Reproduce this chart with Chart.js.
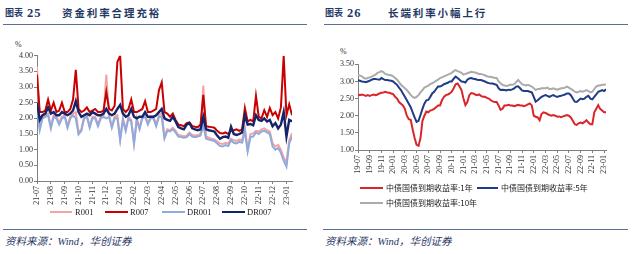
<!DOCTYPE html>
<html><head><meta charset="utf-8">
<script src="https://cdn.jsdelivr.net/npm/chart.js@4.4.0/dist/chart.umd.min.js"></script>
<style>
html,body{margin:0;padding:0;background:#fff;width:640px;height:254px;overflow:hidden;position:relative;}
.a{position:absolute;white-space:nowrap;}
.hd{color:#1f3864;font-weight:bold;font-family:"Noto Sans CJK SC",sans-serif;line-height:14px;top:6px;}
.num{font-family:"Liberation Serif",serif;font-size:12.5px;letter-spacing:1px;}
.ttl{font-size:10.5px;letter-spacing:1.9px;}
.fig{font-size:9px;}
.rule{position:absolute;height:1px;background:#5b6f94;}
.src{color:#1f3864;font-style:italic;font-family:"Liberation Serif","Noto Sans CJK SC",serif;font-size:10.5px;line-height:14px;top:235px;}
.pct{font-family:"Liberation Serif",serif;font-size:8px;color:#333;line-height:10px;}
.lg{position:absolute;height:2px;}
.lt{font-size:8.5px;line-height:10px;color:#222;font-family:"Liberation Serif",serif;}
.lc{font-size:8px;line-height:10px;color:#222;font-family:"Noto Sans CJK SC",sans-serif;}
canvas{position:absolute;}
</style></head>
<body>
<div class="a hd fig" style="left:5px">图表</div>
<div class="a hd num" style="left:27px">25</div>
<div class="a hd ttl" style="left:62px">资金利率合理充裕</div>
<div class="rule" style="left:3px;width:304px;top:24px"></div>
<div class="a hd fig" style="left:325px">图表</div>
<div class="a hd num" style="left:347px">26</div>
<div class="a hd ttl" style="left:388px">长端利率小幅上行</div>
<div class="rule" style="left:324px;width:304px;top:24px"></div>

<div class="a pct" style="left:15px;top:40px">%</div>
<div class="a pct" style="left:340px;top:47px">%</div>

<canvas id="c1" width="320" height="190" style="left:0;top:30px"></canvas>
<canvas id="c2" width="320" height="150" style="left:320px;top:30px"></canvas>

<div class="lg" style="left:50px;width:22px;top:211px;background:#F4A3A3"></div>
<div class="a lt" style="left:75px;top:207px">R001</div>
<div class="lg" style="left:105px;width:23px;top:211px;background:#C80000"></div>
<div class="a lt" style="left:130px;top:207px">R007</div>
<div class="lg" style="left:162px;width:23px;top:211px;background:#8FAADC"></div>
<div class="a lt" style="left:187px;top:207px">DR001</div>
<div class="lg" style="left:222px;width:23px;top:211px;background:#14246A"></div>
<div class="a lt" style="left:247px;top:207px">DR007</div>

<div class="lg" style="left:360px;width:23px;top:187px;background:#D9262A"></div>
<div class="a lc" style="left:386px;top:183px">中债国债到期收益率:1年</div>
<div class="lg" style="left:477px;width:21px;top:187px;background:#1F3C88"></div>
<div class="a lc" style="left:501px;top:183px">中债国债到期收益率:5年</div>
<div class="lg" style="left:360px;width:23px;top:202px;background:#ABABAB"></div>
<div class="a lc" style="left:386px;top:198px">中债国债到期收益率:10年</div>

<div class="rule" style="left:3px;width:304px;top:229px"></div>
<div class="rule" style="left:323px;width:305px;top:229px"></div>
<div class="a src" style="left:5px">资料来源：Wind，华创证券</div>
<div class="a src" style="left:325px">资料来源：Wind，华创证券</div>

<script>
// ---------- Chart 25 data (5 samples per month, from 2021-07) ----------
const leftMonths = ['21-07','21-08','21-09','21-10','21-11','21-12','22-01','22-02','22-03','22-04','22-05','22-06','22-07','22-08','22-09','22-10','22-11','22-12','23-01'];
const leftPerMonth = 5;
const R001 = [3.65,1.7,2.05,2.1,2.15, 1.75,2.1,2.05,1.85,2.05, 2.1,1.75,2.05,2.15,2.2, 1.55,1.65,2.05,2.1,1.75, 2.05,2.05,1.8,2.05,2.1, 3.4,2.1,1.75,2.05,2.1, 1.35,2.0,1.65,2.05,1.95, 1.22,2.0,1.7,2.05,2.1, 1.85,2.05,2.05,1.8,2.1, 2.15,1.4,1.65,1.62,1.7, 1.6,1.47,1.45,1.42,1.45, 1.55,1.47,1.45,1.47,1.5, 3.05,1.42,1.38,1.35,1.33, 1.27,1.2,1.18,1.22,1.2, 1.35,1.3,1.28,1.32,1.3, 1.7,1.0,1.5,1.52,1.6, 1.58,1.65,1.68,1.62,1.58, 1.2,1.1,1.15,1.0,0.75, 0.6,1.3,1.53];
const R007 = [3.4,2.2,2.2,2.25,2.6, 2.25,2.5,2.2,2.25,2.5, 2.2,2.2,2.3,2.6,3.55, 2.3,2.2,2.25,2.35,2.2, 2.25,2.3,2.2,2.2,2.25, 2.85,2.3,2.25,2.4,3.8, 4.0,2.3,2.2,2.3,2.6, 2.2,2.2,2.25,2.3,2.55, 2.2,2.2,2.25,2.3,2.9, 3.15,2.2,2.15,2.05,2.15, 1.95,1.8,1.78,1.75,1.85, 1.87,1.75,1.73,1.72,1.8, 2.75,1.75,1.73,1.72,1.7, 1.6,1.53,1.52,1.55,1.5, 1.6,1.62,1.65,1.6,1.65, 2.33,1.9,1.95,1.9,2.72, 2.05,2.0,2.26,2.05,2.33, 2.1,2.2,2.0,2.35,4.0, 2.1,2.45,2.1];
const DR001 = [2.3,1.63,2.0,2.05,2.1, 1.68,2.05,2.0,1.8,2.0, 2.05,1.7,2.0,2.1,2.0, 1.49,1.6,2.0,2.05,1.7, 2.0,2.0,1.75,2.0,2.05, 2.0,2.05,1.7,2.0,2.0, 1.3,1.95,1.6,2.0,1.9, 1.18,1.95,1.65,2.0,2.05, 1.8,2.0,2.0,1.75,2.05, 2.05,1.36,1.6,1.58,1.65, 1.55,1.42,1.4,1.38,1.4, 1.5,1.42,1.4,1.42,1.45, 1.76,1.35,1.32,1.3,1.28, 1.2,1.12,1.1,1.15,1.12, 1.3,1.22,1.2,1.25,1.22, 1.6,0.94,1.4,1.42,1.55, 1.5,1.58,1.6,1.55,1.5, 1.1,1.0,1.05,0.9,0.65, 0.46,1.2,1.42];
const DR007 = [2.5,1.95,2.1,2.15,2.35, 2.15,2.2,2.1,2.1,2.2, 2.15,2.1,2.15,2.25,2.55, 2.2,2.05,2.1,2.15,2.1, 2.2,2.15,2.1,2.1,2.15, 2.3,2.15,2.1,2.15,2.3, 2.43,2.15,2.05,2.1,2.3, 2.05,2.0,2.05,2.05,2.2, 2.05,2.05,2.05,2.1,2.2, 2.3,2.0,1.95,1.92,2.05, 1.9,1.72,1.68,1.65,1.8, 1.85,1.68,1.65,1.62,1.65, 2.05,1.65,1.62,1.6,1.58, 1.45,1.35,1.4,1.42,1.38, 1.73,1.5,1.47,1.5,1.55, 2.1,1.8,1.82,1.78,2.1, 1.95,1.92,2.0,1.9,1.95, 1.75,1.85,1.68,1.8,2.2, 1.42,1.95,1.9];

// ---------- Chart 26 data (3 samples per month, from 2019-07) ----------
const rightLabels = ['19-07','19-09','19-11','20-01','20-03','20-05','20-07','20-09','20-11','21-01','21-03','21-05','21-07','21-09','21-11','22-01','22-03','22-05','22-07','22-09','22-11','23-01'];
const rightPerMonth = 3;
const Y1 = [2.62,2.6,2.62, 2.6,2.58,2.6, 2.58,2.6,2.62, 2.6,2.62,2.65, 2.67,2.68,2.7, 2.68,2.67,2.65, 2.63,2.55,2.5, 2.4,2.35,2.3, 2.2,2.0,1.9, 1.88,1.6,1.35, 1.15,1.12,1.35, 1.85,2.0,2.12, 2.1,2.15,2.17, 2.2,2.25,2.3, 2.3,2.45,2.55, 2.6,2.62,2.65, 2.7,2.8,2.92, 2.94,2.85,2.75, 2.5,2.31,2.4, 2.6,2.66,2.65, 2.62,2.6,2.62, 2.58,2.55,2.55, 2.52,2.5,2.45, 2.42,2.4,2.4, 2.3,2.17,2.2, 2.3,2.3,2.32, 2.3,2.3,2.28, 2.3,2.32,2.3, 2.3,2.28,2.3, 2.33,2.36,2.3, 2.0,1.97,1.95, 1.87,2.05,2.1, 2.08,2.05,2.02, 2.0,2.02,2.0, 1.97,1.98,1.96, 1.98,2.0,2.02, 2.0,1.95,1.85, 1.75,1.73,1.78, 1.8,1.78,1.82, 1.87,1.8,1.75, 1.75,2.1,2.2, 2.31,2.2,2.15, 2.1,2.1];
const Y5 = [3.04,3.02,3.0, 2.99,2.98,3.0, 3.02,3.05,3.07, 3.07,3.06,3.05, 3.1,3.07,3.04, 3.04,3.03,3.02, 3.0,2.95,2.9, 2.82,2.75,2.65, 2.55,2.45,2.35, 2.25,2.1,1.95, 1.82,1.85,2.02, 2.2,2.35,2.45, 2.46,2.55,2.65, 2.7,2.78,2.85, 2.85,2.88,2.92, 2.94,2.96,3.0, 3.0,3.08,3.14, 3.1,3.05,3.0, 2.99,2.97,3.05, 3.09,3.1,3.08, 3.07,3.05,3.04, 3.04,3.02,3.0, 2.97,2.95,2.94, 2.94,2.92,2.9, 2.8,2.75,2.76, 2.75,2.74,2.76, 2.75,2.77,2.8, 2.85,2.86,2.8, 2.74,2.72,2.72, 2.72,2.7,2.68, 2.55,2.41,2.45, 2.5,2.55,2.58, 2.6,2.58,2.55, 2.58,2.6,2.57, 2.55,2.57,2.58, 2.6,2.62,2.65, 2.65,2.6,2.5, 2.41,2.4,2.45, 2.5,2.48,2.5, 2.55,2.58,2.5, 2.48,2.55,2.62, 2.7,2.72,2.75, 2.72,2.77];
const Y10 = [3.19,3.17,3.15, 3.1,3.08,3.1, 3.12,3.14,3.17, 3.2,3.25,3.27, 3.3,3.27,3.22, 3.2,3.19,3.18, 3.15,3.1,3.05, 2.98,2.9,2.85, 2.8,2.75,2.68, 2.6,2.55,2.52, 2.55,2.6,2.68, 2.75,2.82,2.85, 2.88,2.92,2.95, 2.98,3.02,3.05, 3.1,3.12,3.15, 3.17,3.2,3.22, 3.25,3.3,3.33, 3.3,3.28,3.25, 3.2,3.22,3.24, 3.26,3.28,3.27, 3.26,3.24,3.22, 3.22,3.2,3.18, 3.15,3.14,3.13, 3.12,3.1,3.1, 3.0,2.95,2.9, 2.88,2.87,2.88, 2.9,2.9,2.92, 2.98,3.04,2.98, 2.92,2.9,2.88, 2.9,2.88,2.85, 2.8,2.75,2.78, 2.78,2.8,2.8, 2.8,2.82,2.78, 2.78,2.8,2.78, 2.76,2.78,2.8, 2.8,2.82,2.85, 2.82,2.78,2.75, 2.7,2.68,2.7, 2.72,2.7,2.72, 2.75,2.72,2.68, 2.7,2.78,2.85, 2.88,2.88,2.9, 2.9,2.92];

const toXY = (arr, ppm) => arr.map((v, i) => ({x: i / ppm, y: v}));
const axisGrey = '#808080';
const tickFont = {family: 'Liberation Serif', size: 8};

function lineDs(label, arr, ppm, color, width, order) {
  return {label, data: toXY(arr, ppm), borderColor: color, backgroundColor: color,
          borderWidth: width, pointRadius: 0, tension: 0, order};
}

new Chart(document.getElementById('c1'), {
  type: 'line',
  data: {datasets: [
    lineDs('R001', R001, leftPerMonth, '#F4A3A3', 2, 4),
    lineDs('R007', R007, leftPerMonth, '#C80000', 2, 3),
    lineDs('DR001', DR001, leftPerMonth, '#8FAADC', 2, 2),
    lineDs('DR007', DR007, leftPerMonth, '#14246A', 2.4, 1)
  ]},
  options: {
    responsive: false, animation: false, devicePixelRatio: 1,
    layout: {padding: {top: 25.7, right: 28, left: 0, bottom: 0}},
    plugins: {legend: {display: false}, tooltip: {enabled: false}},
    scales: {
      x: {
        type: 'linear', min: 0, max: (R007.length - 1) / leftPerMonth,
        afterBuildTicks: s => { s.ticks = leftMonths.map((_, k) => ({value: k})); },
        afterFit: s => { s.height = 39; },
        ticks: {autoSkip: false, minRotation: 90, maxRotation: 90, padding: 2, font: tickFont, color: '#333',
                callback: v => leftMonths[v]},
        grid: {display: true, drawOnChartArea: false, drawTicks: true, tickLength: 3, color: axisGrey},
        border: {display: true, color: axisGrey}
      },
      y: {
        min: 0, max: 4,
        afterFit: s => { s.width = 37; },
        ticks: {stepSize: 0.5, padding: 1, font: tickFont, color: '#333', callback: v => Number(v).toFixed(2)},
        grid: {display: true, drawOnChartArea: false, drawTicks: true, tickLength: 3, color: axisGrey},
        border: {display: true, color: axisGrey}
      }
    }
  }
});

new Chart(document.getElementById('c2'), {
  type: 'line',
  data: {datasets: [
    lineDs('中债国债到期收益率:1年', Y1, rightPerMonth, '#D9262A', 2, 1),
    lineDs('中债国债到期收益率:5年', Y5, rightPerMonth, '#1F3C88', 2, 2),
    lineDs('中债国债到期收益率:10年', Y10, rightPerMonth, '#ABABAB', 2, 3)
  ]},
  options: {
    responsive: false, animation: false, devicePixelRatio: 1,
    layout: {padding: {top: 34.3, right: 34, left: 0, bottom: 0}},
    plugins: {legend: {display: false}, tooltip: {enabled: false}},
    scales: {
      x: {
        type: 'linear', min: 0, max: (Y1.length - 1) / rightPerMonth,
        afterBuildTicks: s => { s.ticks = rightLabels.map((_, k) => ({value: 2 * k})); },
        afterFit: s => { s.height = 30; },
        ticks: {autoSkip: false, minRotation: 90, maxRotation: 90, padding: 2, font: tickFont, color: '#333',
                callback: v => rightLabels[v / 2]},
        grid: {display: true, drawOnChartArea: false, drawTicks: true, tickLength: 3, color: axisGrey},
        border: {display: true, color: axisGrey}
      },
      y: {
        min: 1, max: 3.5,
        afterFit: s => { s.width = 38; },
        ticks: {stepSize: 0.5, padding: 1, font: tickFont, color: '#333', callback: v => Number(v).toFixed(2)},
        grid: {display: true, drawOnChartArea: false, drawTicks: true, tickLength: 3, color: axisGrey},
        border: {display: true, color: axisGrey}
      }
    }
  }
});
</script>
</body></html>
